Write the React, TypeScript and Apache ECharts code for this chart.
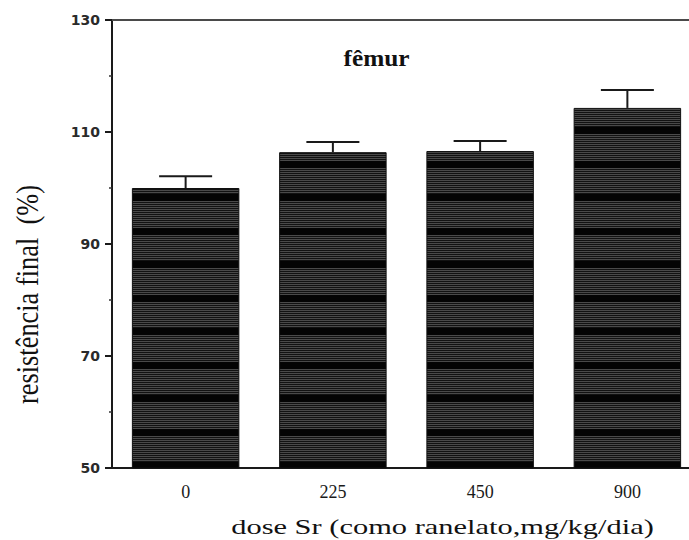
import React, { useEffect, useRef } from "react";
import * as echarts from "echarts";

// Strontium dose groups (mg/kg/day, as ranelate)
const doses = ["0", "225", "450", "900"];
// Final strength of the femur, % of control
const strength = [100, 106.4, 106.6, 114.3];
// Upper error (SEM)
const errors = [2.1, 1.8, 1.8, 3.2];
// Y axis ticks
const yTicks = { min: 50, max: 130, step: 20 };

const title = "fêmur";
const yName = "resistência final  (%)";
const xName = "dose Sr (como ranelato,mg/kg/dia)";

// Horizontal hatch used to fill the bars: thick black bands with fine grey lines between.
function makeHatch(): string {
  const w = 8;
  const h = 67;
  const c = document.createElement("canvas");
  c.width = w;
  c.height = h;
  const ctx = c.getContext("2d")!;
  for (let y = 0; y < h; y++) {
    const inBand = (y >= 27 && y < 34) || (y >= 60 && y < 67);
    ctx.fillStyle = inBand ? "#040404" : y % 2 === 0 ? "#4a4a4a" : "#121212";
    ctx.fillRect(0, y, w, 1);
  }
  return c.toDataURL();
}

export default function App() {
  const ref = useRef<HTMLDivElement>(null);

  useEffect(() => {
    document.body.style.margin = "0";
    const chart = echarts.init(ref.current!, null, { renderer: "svg" });
    const hatch = makeHatch();
    const serif = "'Liberation Serif', 'Times New Roman', serif";

    chart.setOption({
      animation: false,
      backgroundColor: "#ffffff",
      // the plot area runs a little past the right edge of the figure
      grid: {
        left: 112,
        width: 589,
        top: 20,
        bottom: 72,
        containLabel: false,
        outerBoundsMode: "none",
      } as any,
      xAxis: [
        {
          type: "category",
          data: doses,
          position: "bottom",
          axisLine: { show: true, onZero: false, lineStyle: { color: "#1a1a1a", width: 2 } },
          axisTick: { show: false },
          axisLabel: {
            color: "#1a1a1a",
            fontFamily: serif,
            fontSize: 18,
            margin: 15,
          },
          splitLine: { show: false },
        },
        {
          type: "category",
          data: doses,
          position: "top",
          axisLine: { show: true, lineStyle: { color: "#4a4a4a", width: 2 } },
          axisTick: { show: false },
          axisLabel: { show: false },
          splitLine: { show: false },
        },
      ],
      yAxis: {
        type: "value",
        min: yTicks.min,
        max: yTicks.max,
        interval: yTicks.step,
        axisLine: { show: true, lineStyle: { color: "#1a1a1a", width: 2 } },
        axisTick: { show: true, length: 7, lineStyle: { color: "#1a1a1a", width: 2 } },
        minorTick: { show: true, splitNumber: 2, length: 3, lineStyle: { color: "#333", width: 1.5 } },
        splitLine: { show: false },
        minorSplitLine: { show: false },
        axisLabel: {
          color: "#2a2a2a",
          fontFamily: "'DejaVu Sans', sans-serif",
          fontWeight: "bold",
          fontSize: 14,
          margin: 12,
        },
      },
      series: [
        {
          type: "bar",
          data: strength,
          barWidth: "73%",
          itemStyle: {
            color: { image: hatch, repeat: "repeat", imageWidth: 8, imageHeight: 67 } as any,
            borderColor: "#111",
            borderWidth: 1,
          },
          z: 2,
        },
        {
          type: "custom",
          data: strength.map((v, i) => [i, v, errors[i]]),
          z: 3,
          renderItem: (params: any, api: any) => {
            const i = api.value(0);
            const mean = api.value(1);
            const err = api.value(2);
            const base = api.coord([i, mean]);
            const top = api.coord([i, mean + err]);
            const half = 26.5;
            const style = { stroke: "#1a1a1a", lineWidth: 2 };
            return {
              type: "group",
              children: [
                { type: "line", shape: { x1: base[0], y1: base[1], x2: top[0], y2: top[1] }, style },
                { type: "line", shape: { x1: top[0] - half, y1: top[1], x2: top[0] + half, y2: top[1] }, style },
              ],
            };
          },
        },
      ],
      graphic: [
        {
          type: "text",
          x: 376.5,
          y: 57.5,
          scaleX: 1.1,
          style: {
            text: title,
            font: `bold 23px ${serif}`,
            fill: "#111",
            align: "center",
            verticalAlign: "middle",
          },
        },
        {
          type: "text",
          x: 27,
          y: 294.5,
          rotation: Math.PI / 2,
          scaleX: 1.1,
          scaleY: 1.3,
          style: {
            text: yName,
            font: `24px ${serif}`,
            fill: "#111",
            align: "center",
            verticalAlign: "middle",
          },
        },
        {
          type: "text",
          x: 442.5,
          y: 527,
          scaleX: 1.45,
          style: {
            text: xName,
            font: `21px ${serif}`,
            fill: "#111",
            align: "center",
            verticalAlign: "middle",
          },
        },
      ],
    });

    return () => chart.dispose();
  }, []);

  return <div ref={ref} style={{ width: 689, height: 540 }} />;
}
